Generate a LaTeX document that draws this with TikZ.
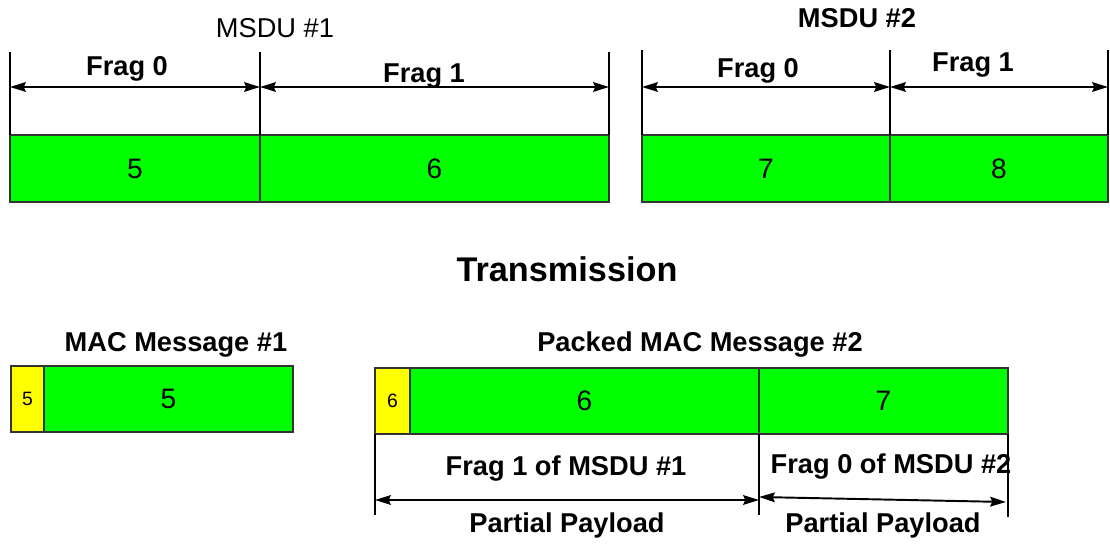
\documentclass[tikz,border=0pt]{standalone}
\usepackage{fontspec}
\setmainfont{Liberation Sans}
\usetikzlibrary{arrows.meta}
\definecolor{fraggreen}{HTML}{00FF00}
\definecolor{hdryellow}{HTML}{FFFF00}
\tikzset{
  frag/.style={draw=black!80, line width=0.6pt, fill=fraggreen, anchor=north west,
    inner sep=0pt, outer sep=0pt, minimum height=13.4mm, font=\fontsize{16}{19}\selectfont},
  hdr/.style={frag, fill=hdryellow, font=\fontsize{11}{13}\selectfont},
  lbl/.style={anchor=base, font=\bfseries\fontsize{15.5}{18}\selectfont},
  tickline/.style={line width=1.1pt},
  dimarrow/.style={line width=1.1pt,
    {Stealth[length=9pt,width=5.5pt,inset=1.2pt]}-{Stealth[length=9pt,width=5.5pt,inset=1.2pt]}}
}
\begin{document}
\begin{tikzpicture}[x=0.2mm, y=-0.2mm]
  \path[use as bounding box] (0,0) rectangle (1110,544);
  % MSDU #1
  \node[frag, minimum width=50mm] at (10,135) (f5) {5};
  \node[frag, minimum width=69.8mm] at (f5.north east) (f6) {6};
  \node[anchor=base, font=\fontsize{15.5}{18}\selectfont] at (275,38) (msdu1) {MSDU \#1};
  \path[draw,tickline] (f5.north west) -- ++(0,-83);
  \path[draw,tickline] (f6.north west) -- ++(0,-83);
  \path[draw,tickline] (f6.north east) -- ++(0,-83);
  \coordinate (d0) at (10,87);
  \coordinate (d1) at (260,87);
  \coordinate (d2) at (609,87);
  \path[draw,dimarrow] (d0) -- (d1);
  \path[draw,dimarrow] (d1) -- (d2);
  \node[lbl] at (127,76) (fa0) {Frag 0};
  \node[lbl] at (424,83) (fa1) {Frag 1};
  % MSDU #2
  \node[frag, minimum width=49.6mm] at (642,135) (f7) {7};
  \node[frag, minimum width=43.6mm] at (f7.north east) (f8) {8};
  \node[lbl] at (857,28) (msdu2) {MSDU \#2};
  \path[draw,tickline] (f7.north west) -- ++(0,-85);
  \path[draw,tickline] (f8.north west) -- ++(0,-85);
  \path[draw,tickline] (f8.north east) -- ++(0,-85);
  \coordinate (e0) at (642,87);
  \coordinate (e1) at (890,87);
  \coordinate (e2) at (1108,87);
  \path[draw,dimarrow] (e0) -- (e1);
  \path[draw,dimarrow] (e1) -- (e2);
  \node[lbl] at (758,78) (fb0) {Frag 0};
  \node[lbl] at (973,72) (fb1) {Frag 1};
  % transmission
  \node[lbl, font=\bfseries\fontsize{19.5}{23}\selectfont] at (567,282) (tx) {Transmission};
  % MAC message #1
  \node[hdr, minimum width=6.6mm, minimum height=13.2mm] at (11,366) (h5) {5};
  \node[frag, minimum width=49.8mm, minimum height=13.2mm] at (h5.north east) (m5) {5};
  \node[lbl] at (176,352) (mac1) {MAC Message \#1};
  % packed MAC message #2
  \node[hdr, minimum width=7mm, minimum height=13.2mm] at (375,368) (h6) {6};
  \node[frag, minimum width=69.8mm, minimum height=13.2mm] at (h6.north east) (m6) {6};
  \node[frag, minimum width=49.8mm, minimum height=13.2mm] at (m6.north east) (m7) {7};
  \node[lbl] at (700,352) (mac2) {Packed MAC Message \#2};
  \path[draw,tickline] (h6.south west) -- ++(0,81);
  \path[draw,tickline] (m7.south west) -- ++(0,81);
  \path[draw,tickline] (m7.south east) -- ++(0,83);
  \coordinate (p0) at (375,500);
  \coordinate (p1) at (759,500);
  \coordinate (q0) at (759,497);
  \coordinate (q1) at (1006,502);
  \path[draw,dimarrow] (p0) -- (p1);
  \path[draw,dimarrow] (q0) -- (q1);
  \node[lbl] at (566,476) (fr1) {Frag 1 of MSDU \#1};
  \node[lbl] at (891,474) (fr0) {Frag 0 of MSDU \#2};
  \node[lbl] at (567,533) (pp1) {Partial Payload};
  \node[lbl] at (883,533) (pp2) {Partial Payload};
\end{tikzpicture}
\end{document}
